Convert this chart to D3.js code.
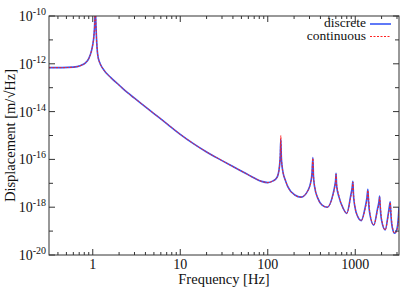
<!DOCTYPE html>
<html>
<head>
<meta charset="utf-8">
<script src="https://cdn.jsdelivr.net/npm/d3@7"></script>
<style>
    body { margin: 0; background: #fff; }
    svg { display: block; }
</style>
</head>
<body>
<svg id="chart"></svg>
<script>
// frequency samples [Hz], shared by both series
const frequencies = [
    0.316, 0.45, 0.6, 0.72, 0.82, 0.9, 0.96, 1.0, 1.03, 1.05, 1.06, 1.07, 1.08, 1.1, 1.14, 1.2, 1.3,
    1.62, 2, 2.5, 3, 4, 5, 7, 10, 14, 20, 30, 40, 55, 70, 85, 100, 115, 125, 132, 136, 139, 141,
    143, 146, 150, 160, 170, 204, 240, 290, 310, 320, 328, 333, 343, 374, 418, 480, 560, 586, 597,
    604, 612, 650, 728, 800, 890, 920, 940, 955, 990, 1070, 1170, 1300, 1360, 1395, 1420, 1470,
    1630, 1800, 1870, 1900, 1930, 2000, 2200, 2380, 2460, 2510, 2550, 2650, 2820, 3000, 3100, 3162
];

// log10 of displacement [m/sqrt(Hz)]
const logDiscrete = [
    -12.16, -12.16, -12.14, -12.08, -11.97, -11.78, -11.5, -11.2, -10.85, -10.4, -10.0, -9.3, -10.0, -10.8, -11.63, -11.95, -12.19,
    -12.59, -12.89, -13.21, -13.44, -13.8, -14.08, -14.5, -14.95, -15.33, -15.69, -16.05, -16.3, -16.57, -16.78, -16.92, -16.97, -16.9, -16.8, -16.6, -16.3, -15.85, -15.15,
    -15.9, -16.3, -16.57, -16.9, -17.15, -17.49, -17.58, -17.28, -16.95, -16.6, -15.92, -16.7, -17.14, -17.63, -17.91, -18.0, -17.42, -17.07, -16.85,
    -16.58, -17.1, -17.56, -18.05, -18.26, -17.49, -17.2, -16.92, -17.5, -17.98, -18.4, -18.56, -18.0, -17.6, -17.25, -17.8, -18.3,
    -18.75, -18.05, -17.75, -17.53, -18.0, -18.55, -18.95, -18.3, -17.95, -17.77, -18.25, -18.85, -19.09, -18.9, -18.5, -17.99
];

const logContinuous = [
    -12.16, -12.16, -12.14, -12.08, -11.97, -11.78, -11.5, -11.2, -10.85, -10.4, -10.0, -9.3, -10.0, -10.8, -11.63, -11.95, -12.19,
    -12.59, -12.89, -13.21, -13.44, -13.8, -14.08, -14.5, -14.95, -15.33, -15.69, -16.05, -16.3, -16.57, -16.78, -16.92, -16.97, -16.9, -16.8, -16.6, -16.3, -15.8, -15.0,
    -15.85, -16.3, -16.57, -16.9, -17.15, -17.49, -17.58, -17.28, -16.98, -16.65, -15.95, -16.6, -17.1, -17.63, -17.91, -18.0, -17.45, -17.12, -16.9,
    -16.62, -17.0, -17.52, -18.05, -18.26, -17.55, -17.3, -16.95, -17.4, -17.95, -18.4, -18.56, -18.05, -17.7, -17.3, -17.6, -18.25,
    -18.75, -18.1, -17.85, -17.58, -17.85, -18.5, -18.95, -18.35, -18.05, -17.8, -18.1, -18.8, -19.09, -18.95, -18.6, -18.1
];

const seriesNames = ["discrete", "continuous"];
const xTickValues = [1, 10, 100, 1000];
const yTickExponents = [-10, -12, -14, -16, -18, -20];

const serif = '"Liberation Serif", "DejaVu Serif", serif';
const width = 415, height = 292;
const margin = { top: 16, right: 16, bottom: 37, left: 49 };
const innerW = width - margin.left - margin.right;
const innerH = height - margin.top - margin.bottom;

const svg = d3.select("#chart")
    .attr("width", width)
    .attr("height", height);

const x = d3.scaleLog()
    .domain([Math.pow(10, -0.5), Math.pow(10, 3.5)])
    .range([0, innerW]);

const y = d3.scaleLog()
    .domain([1e-20, 1e-10])
    .range([innerH, 0]);

const chart = svg.append("g")
    .attr("transform", `translate(${margin.left},${margin.top})`);

// build point lists from the arrays
const discrete = frequencies.map((f, i) => ({ f: f, d: Math.pow(10, logDiscrete[i]) }));
const continuous = frequencies.map((f, i) => ({ f: f, d: Math.pow(10, logContinuous[i]) }));

chart.append("clipPath")
    .attr("id", "plot-clip")
    .append("rect")
    .attr("width", innerW)
    .attr("height", innerH);

const line = d3.line()
    .x(d => x(d.f))
    .y(d => y(d.d))
    .curve(d3.curveMonotoneX);

const lines = chart.append("g").attr("clip-path", "url(#plot-clip)");

lines.append("path")
    .datum(discrete)
    .attr("fill", "none")
    .attr("stroke", "#3657f5")
    .attr("stroke-width", 1.6)
    .attr("d", line);

lines.append("path")
    .datum(continuous)
    .attr("fill", "none")
    .attr("stroke", "#ff2020")
    .attr("stroke-width", 1)
    .attr("stroke-dasharray", "2,1.5")
    .attr("d", line);

// minor / major ticks, mirrored on all four sides
const frameColor = "#333";
const xMinor = [];
for (let e = -1; e <= 3; e++) {
    for (let m = 2; m <= 9; m++) {
        const v = m * Math.pow(10, e);
        if (v >= x.domain()[0] && v <= x.domain()[1]) xMinor.push(v);
    }
}

const ticks = chart.append("g").attr("stroke", frameColor).attr("stroke-width", 1);

xMinor.forEach(v => {
    ticks.append("line").attr("x1", x(v)).attr("x2", x(v)).attr("y1", innerH).attr("y2", innerH - 3);
    ticks.append("line").attr("x1", x(v)).attr("x2", x(v)).attr("y1", 0).attr("y2", 3);
});
xTickValues.forEach(v => {
    ticks.append("line").attr("x1", x(v)).attr("x2", x(v)).attr("y1", innerH).attr("y2", innerH - 6);
    ticks.append("line").attr("x1", x(v)).attr("x2", x(v)).attr("y1", 0).attr("y2", 6);
});

d3.range(-20, -9).forEach(e => {
    const v = Math.pow(10, e);
    const len = yTickExponents.includes(e) ? 6 : 4;
    ticks.append("line").attr("x1", 0).attr("x2", len).attr("y1", y(v)).attr("y2", y(v));
    ticks.append("line").attr("x1", innerW).attr("x2", innerW - len).attr("y1", y(v)).attr("y2", y(v));
});

chart.append("rect")
    .attr("width", innerW)
    .attr("height", innerH)
    .attr("fill", "none")
    .attr("stroke", frameColor)
    .attr("stroke-width", 1);

// tick labels
chart.selectAll(".x-label")
    .data(xTickValues)
    .join("text")
    .attr("class", "x-label")
    .style("font-family", serif)
    .style("font-size", "14px")
    .attr("fill", "#111")
    .attr("x", d => x(d))
    .attr("y", innerH + 14)
    .attr("text-anchor", "middle")
    .text(d => d);

const yLabels = chart.selectAll(".y-label")
    .data(yTickExponents)
    .join("text")
    .attr("class", "y-label")
    .style("font-family", serif)
    .style("font-size", "14px")
    .attr("fill", "#111")
    .attr("x", -3)
    .attr("y", d => y(Math.pow(10, d)) + 5)
    .attr("text-anchor", "end");
yLabels.append("tspan").text("10");
yLabels.append("tspan")
    .attr("dy", -6)
    .style("font-size", "10px")
    .text(d => d);

// axis titles
chart.append("text")
    .style("font-family", serif)
    .style("font-size", "14.5px")
    .attr("fill", "#111")
    .attr("x", innerW / 2)
    .attr("y", innerH + 29)
    .attr("text-anchor", "middle")
    .text("Frequency [Hz]");

svg.append("text")
    .style("font-family", serif)
    .style("font-size", "14.5px")
    .attr("fill", "#111")
    .attr("transform", `translate(15,${margin.top + innerH / 2}) rotate(-90)`)
    .attr("text-anchor", "middle")
    .text("Displacement [m/\u221AHz]");

// legend
const legend = chart.append("g").attr("transform", `translate(${innerW - 29},0)`);
seriesNames.forEach((name, i) => {
    const ly = 8 + i * 12.5;
    legend.append("text")
        .style("font-family", serif)
        .style("font-size", "13.5px")
        .attr("fill", "#111")
        .attr("x", -4)
        .attr("y", ly + 3)
        .attr("text-anchor", "end")
        .text(name);
    legend.append("line")
        .attr("x1", 0).attr("x2", 21)
        .attr("y1", ly).attr("y2", ly)
        .attr("stroke", i === 0 ? "#3657f5" : "#ff2020")
        .attr("stroke-width", i === 0 ? 1.6 : 1)
        .attr("stroke-dasharray", i === 0 ? null : "2,1.5");
});
</script>
</body>
</html>
